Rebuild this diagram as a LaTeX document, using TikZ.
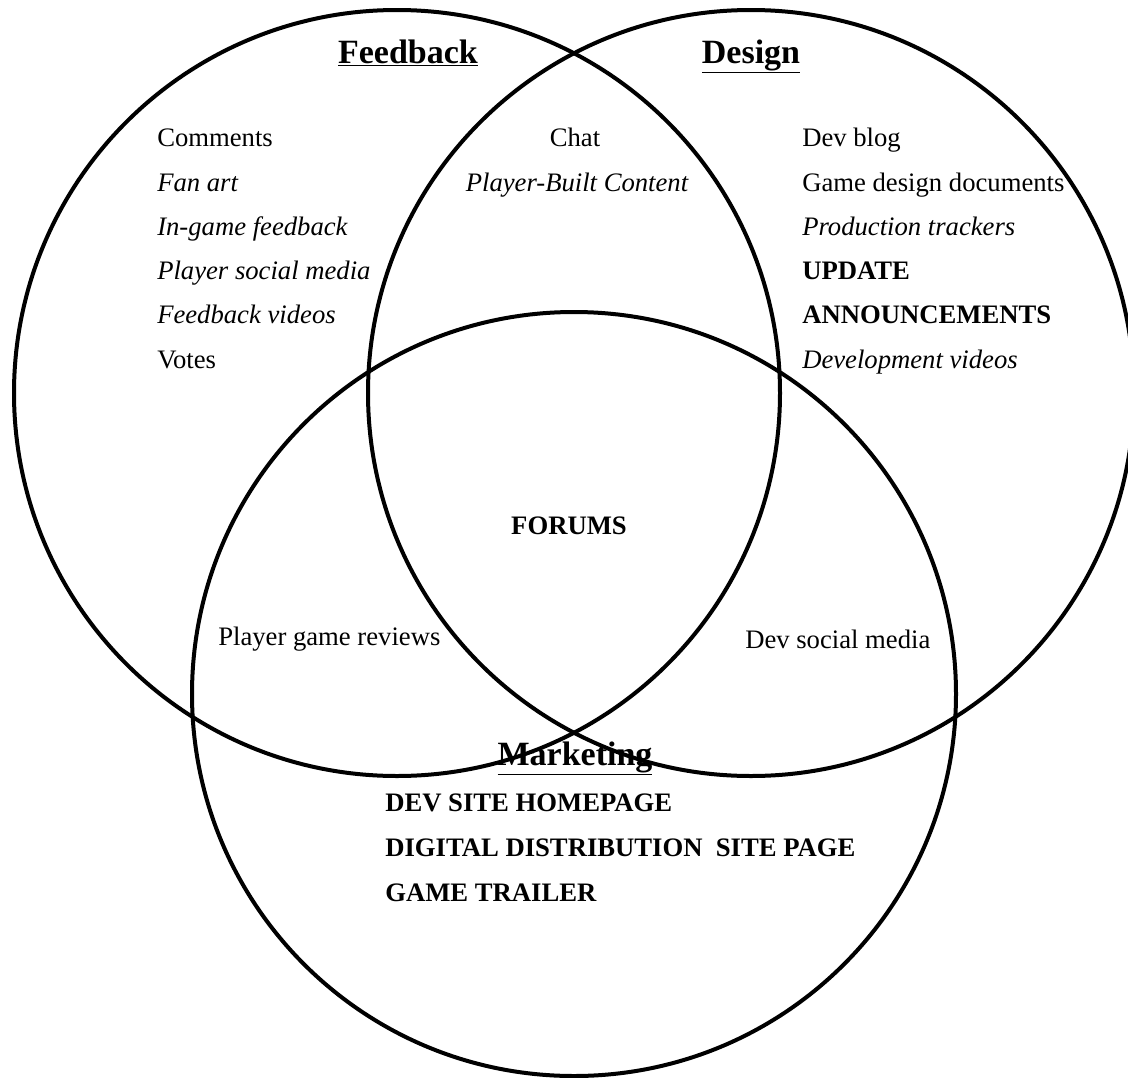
\documentclass[tikz,border=0pt]{standalone}
\usepackage{fontspec}
\setmainfont{Liberation Serif}
\begin{document}
\begin{tikzpicture}[x=0.75pt,y=-0.75pt,
  ring/.style={line width=3pt},
  body/.style={inner sep=0pt,anchor=base west,font=\fontsize{20}{24}\selectfont},
  bodyc/.style={inner sep=0pt,anchor=base,font=\fontsize{20}{24}\selectfont},
  title/.style={inner sep=0pt,anchor=base,font=\fontsize{25.5}{30}\selectfont\bfseries}]
\useasboundingbox (0,0) rectangle (1128,1078);
\clip (0,0) rectangle (1128,1078);
\fill[white] (0,0) rectangle (1128,1078);
% circles
\draw[ring] (397,393) circle[radius=383];
\draw[ring] (751,393) circle[radius=383];
\draw[ring] (574,694) circle[radius=382];
% titles
\node[title] (tfb) at (408,63) {\underline{Feedback}};
\node[title] (tds) at (751,63) {\underline{Design}};
\node[title] (tmk) at (575,765) {\underline{Marketing}};
% feedback column
\node[body] (f1) at (157,146) {Comments};
\node[body] (f2) at (157,191) {\itshape Fan art};
\node[body] (f3) at (157,235) {\itshape In-game feedback};
\node[body] (f4) at (157,279) {\itshape Player social media};
\node[body] (f5) at (157,323) {\itshape Feedback videos};
\node[body] (f6) at (157,368) {Votes};
% design column
\node[body] (d1) at (802,146) {Dev blog};
\node[body] (d2) at (802,191) {Game design documents};
\node[body] (d3) at (802,235) {\itshape Production trackers};
\node[body] (d4) at (802,279) {\bfseries UPDATE};
\node[body] (d5) at (802,323) {\bfseries ANNOUNCEMENTS};
\node[body] (d6) at (802,368) {\itshape Development videos};
% overlaps
\node[bodyc] (c1) at (575,146) {Chat};
\node[bodyc] (c2) at (577,191) {\itshape Player-Built Content};
\node[bodyc] (fo) at (569,534) {\bfseries FORUMS};
\node[body] (pr) at (218,645) {Player game reviews};
\node[body] (ds) at (745,648) {Dev social media};
% marketing
\node[body] (m1) at (385,811) {\bfseries DEV SITE HOMEPAGE};
\node[body] (m2) at (385,856) {\bfseries DIGITAL DISTRIBUTION\ \ SITE PAGE};
\node[body] (m3) at (385,901) {\bfseries GAME TRAILER};
\end{tikzpicture}
\end{document}
